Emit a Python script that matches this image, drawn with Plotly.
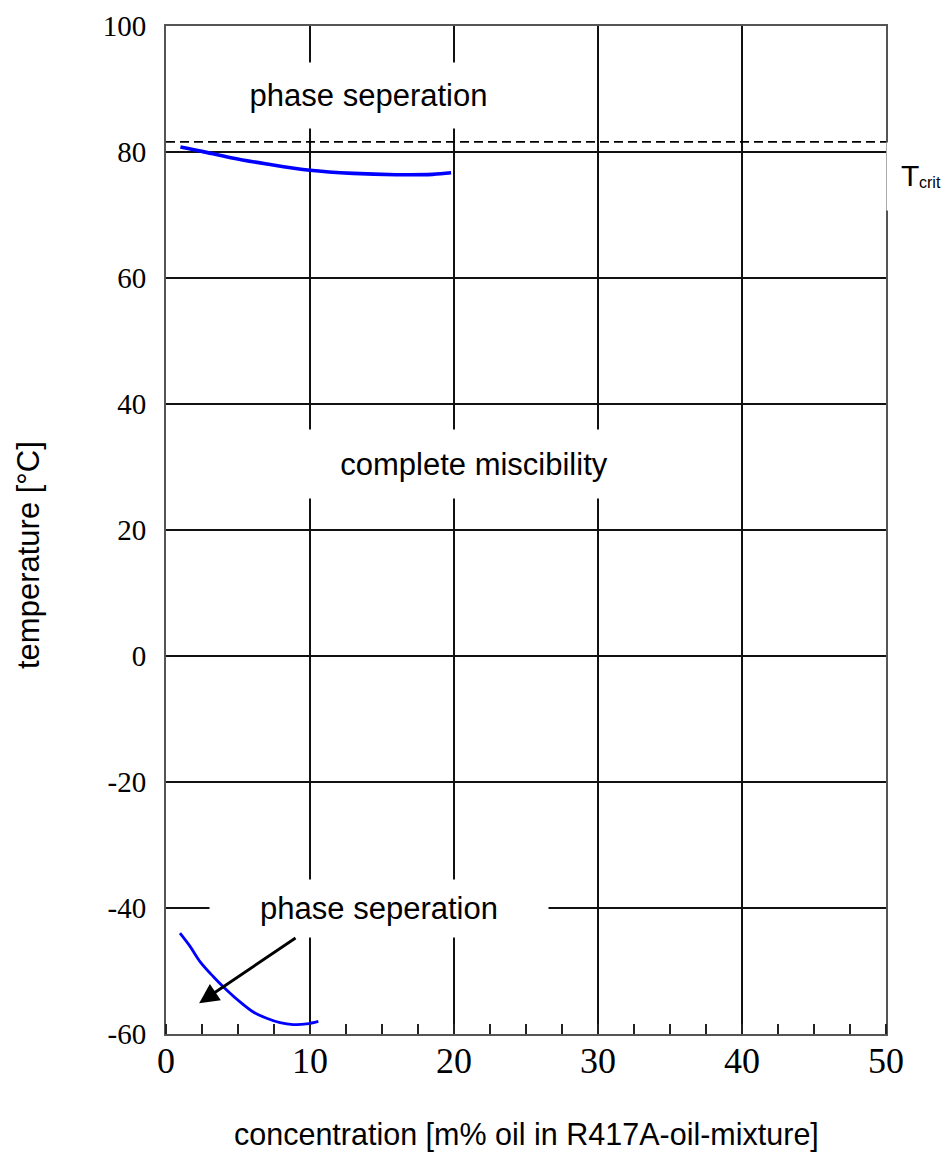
import plotly.graph_objects as go

# ---- data ----
upper_x = [1.0, 2.5, 4.5, 7.0, 10.0, 13.0, 16.0, 18.5, 19.8]
upper_y = [80.8, 80.1, 79.1, 78.1, 77.1, 76.6, 76.4, 76.45, 76.7]

lower_x = [0.97, 1.67, 2.36, 3.29, 4.21, 5.14, 6.06, 6.99, 7.92, 8.84, 9.77, 10.58]
lower_y = [-44.0, -46.1, -48.5, -50.9, -53.0, -54.9, -56.5, -57.5, -58.2, -58.5, -58.4, -58.0]

t_crit = 81.6
x_range = [0, 50]
y_range = [-60, 100]
x_ticks = [0, 10, 20, 30, 40, 50]
y_ticks = [-60, -40, -20, 0, 20, 40, 60, 80, 100]

# page body has an 8px margin; size the figure so it ends at the window edge
OFF = 8
W, H = 949 - OFF, 1153 - OFF
ML, MR, MT, MB = 166 - OFF, 63, 26 - OFF, 119
pw = W - ML - MR
ph = H - MT - MB


def px(xp):
    return (xp - OFF - ML) / pw


def py(yp):
    return 1 - (yp - OFF - MT) / ph


fig = go.Figure()
fig.add_trace(go.Scatter(x=x_range, y=[t_crit, t_crit], mode="lines",
                         line=dict(color="black", width=1.6, dash="9px,5px"),
                         hoverinfo="skip", showlegend=False))
fig.add_trace(go.Scatter(x=upper_x, y=upper_y, mode="lines",
                         line=dict(color="#0000ff", width=3.6, shape="spline"),
                         showlegend=False))
fig.add_trace(go.Scatter(x=lower_x, y=lower_y, mode="lines",
                         line=dict(color="#0000ff", width=2.8, shape="spline"),
                         showlegend=False))

lab_font = dict(family="Liberation Sans, Arial", size=31, color="black")

annotations = [
    dict(x=14.06, y=88.97, xref="x", yref="y", text="phase seperation", showarrow=False,
         width=337, height=65, bgcolor="white", borderpad=0, font=lab_font,
         xanchor="center", yanchor="middle"),
    dict(x=21.39, y=30.48, xref="x", yref="y", text="complete miscibility", showarrow=False,
         width=368, height=68, bgcolor="white", borderpad=0, font=lab_font,
         xanchor="center", yanchor="middle"),
    dict(x=14.79, y=-40.08, xref="x", yref="y", text="phase seperation", showarrow=False,
         width=338, height=57, bgcolor="white", borderpad=0, font=lab_font,
         xanchor="center", yanchor="middle"),
    # arrow
    dict(x=2.3, y=-55.1, ax=9.1, ay=-44.6, xref="x", yref="y", axref="x", ayref="y",
         text="", showarrow=True, arrowhead=2, arrowsize=1.4, arrowwidth=2.8,
         arrowcolor="black"),
    # T_crit box (white, hides right border)
    dict(x=px((886 + 949) / 2), y=py(176.5), xref="paper", yref="paper", text=" ",
         showarrow=False, width=62, height=67, bgcolor="white", borderpad=0,
         font=dict(size=10), xanchor="center", yanchor="middle"),
    dict(x=px(899.5), y=py(175), xref="paper", yref="paper", text="T", showarrow=False,
         font=dict(family="Liberation Sans, Arial", size=30, color="black"),
         xanchor="left", yanchor="middle", borderpad=0),
    dict(x=px(917.5), y=py(182), xref="paper", yref="paper", text="crit", showarrow=False,
         font=dict(family="Liberation Sans, Arial", size=16, color="black"),
         xanchor="left", yanchor="middle", borderpad=0),
    # axis titles
    dict(x=0.5, y=py(1134), xref="paper", yref="paper",
         text="concentration [m% oil in R417A-oil-mixture]", showarrow=False,
         font=dict(family="Liberation Sans, Arial", size=30.5, color="black"),
         xanchor="center", yanchor="middle"),
    dict(x=px(28.5), y=py(555.5), xref="paper", yref="paper",
         text="temperature [°C]", showarrow=False, textangle=-90,
         font=dict(family="Liberation Sans, Arial", size=31, color="black"),
         xanchor="center", yanchor="middle"),
]

fig.update_layout(
    width=W, height=H,
    margin=dict(l=ML, r=MR, t=MT, b=MB, autoexpand=False),
    paper_bgcolor="white", plot_bgcolor="white",
    annotations=annotations,
    showlegend=False,
)
fig.update_xaxes(
    range=x_range, tickvals=x_ticks, ticktext=[str(v) for v in x_ticks],
    showgrid=True, gridcolor="#111111", gridwidth=1.6, zeroline=False,
    showline=True, linecolor="#555555", linewidth=2, mirror=True,
    ticks="", ticklabelstandoff=-6, automargin=False,
    tickfont=dict(family="Liberation Serif, Times New Roman", size=36, color="black"),
    minor=dict(dtick=2.5, tick0=0, ticks="inside", ticklen=10, tickwidth=1.6,
               tickcolor="#222222", showgrid=False),
    fixedrange=True,
)
fig.update_yaxes(
    range=y_range, tickvals=y_ticks, ticktext=[str(v) for v in y_ticks],
    showgrid=True, gridcolor="#111111", gridwidth=1.6, zeroline=False,
    showline=True, linecolor="#555555", linewidth=2, mirror=True,
    ticks="", ticklabelstandoff=12, automargin=False,
    tickfont=dict(family="Liberation Serif, Times New Roman", size=29, color="black"),
    fixedrange=True,
)

fig.write_html("out.html")
